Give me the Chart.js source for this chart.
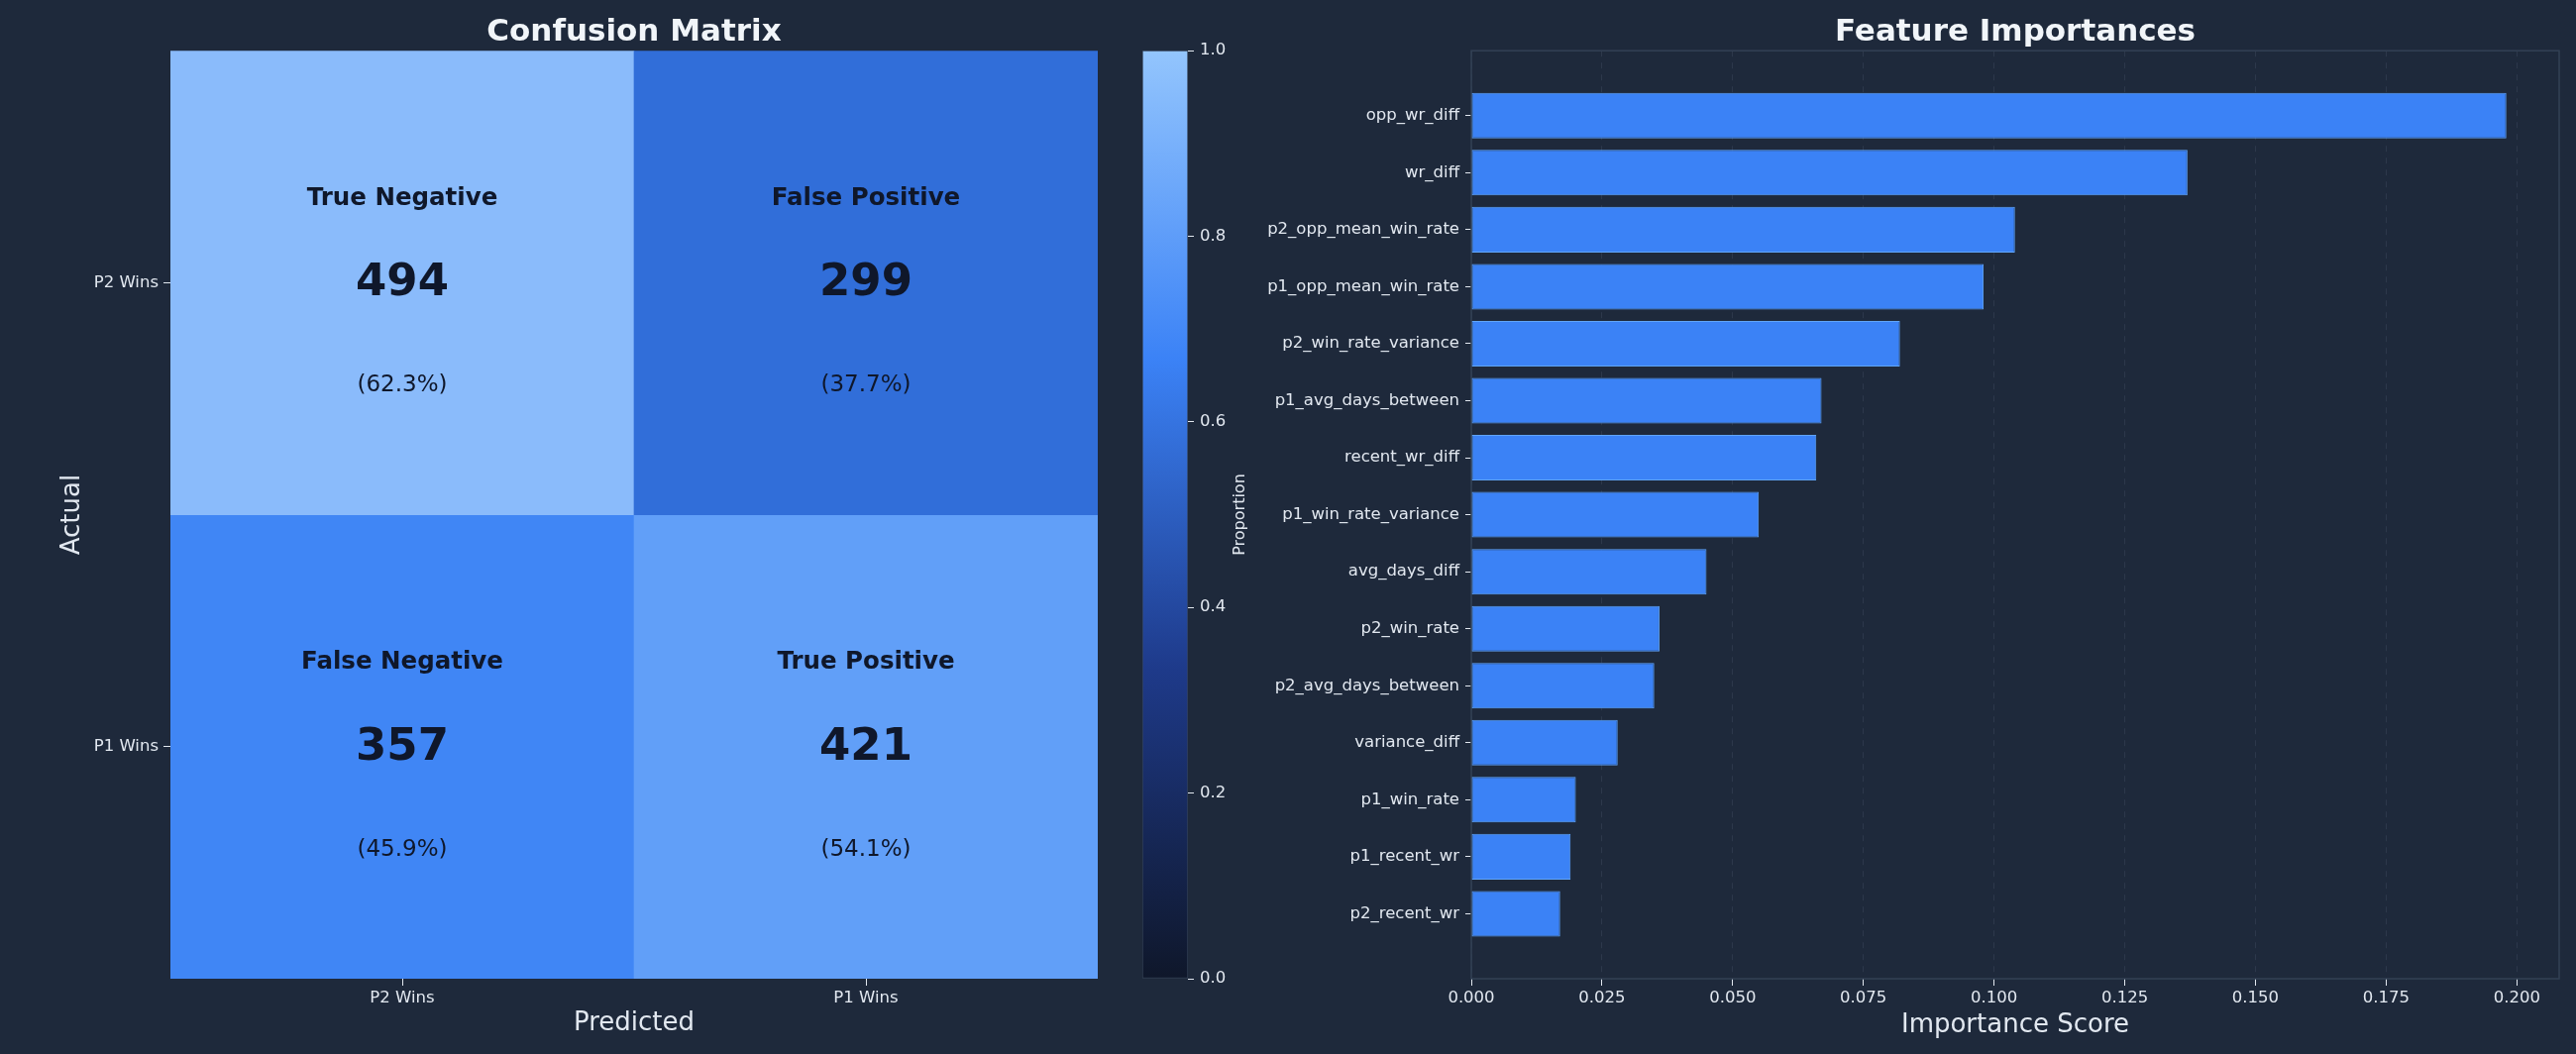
<!DOCTYPE html>
<html><head><meta charset="utf-8">
<script src="https://cdn.jsdelivr.net/npm/chart.js@4.4.1/dist/chart.umd.min.js"></script>
<style>
html,body{margin:0;padding:0;background:#1e293b;width:2600px;height:1064px;overflow:hidden;}
canvas{position:absolute;top:0;}
</style></head><body>
<canvas id="cm" width="1130" height="1064" style="left:0px"></canvas>
<canvas id="cb" width="160" height="1064" style="left:1140px"></canvas>
<canvas id="fi" width="1360" height="1064" style="left:1240px"></canvas>
<script>
// ---------- data ----------
const matrixCategories = ['P2 Wins', 'P1 Wins'];
const cellLabels = [['True Negative', 'False Positive'], ['False Negative', 'True Positive']];
const cellCounts = [[494, 299], [357, 421]];
const cellPercents = [[62.3, 37.7], [45.9, 54.1]];
const colorbarTicks = [0.0, 0.2, 0.4, 0.6, 0.8, 1.0];

const featureNames = ['opp_wr_diff', 'wr_diff', 'p2_opp_mean_win_rate', 'p1_opp_mean_win_rate',
  'p2_win_rate_variance', 'p1_avg_days_between', 'recent_wr_diff', 'p1_win_rate_variance',
  'avg_days_diff', 'p2_win_rate', 'p2_avg_days_between', 'variance_diff', 'p1_win_rate',
  'p1_recent_wr', 'p2_recent_wr'];
const featureImportances = [0.198, 0.137, 0.104, 0.098, 0.082, 0.067, 0.066, 0.055,
  0.045, 0.036, 0.035, 0.028, 0.020, 0.019, 0.017];
const importanceTicks = [0.000, 0.025, 0.050, 0.075, 0.100, 0.125, 0.150, 0.175, 0.200];

// ---------- styles ----------
const FONT = 'DejaVu Sans';
const TEXT = '#e2e8f0';
const TITLE = '#f1f5f9';
const TICK_SIZE = 16.5;
const cellColors = [['#8abbfb', '#316ed9'], ['#4086f5', '#619ff8']];
const cmapStops = [[0, '#0f172a'], [1/3, '#1e3a8a'], [2/3, '#3b82f6'], [1, '#93c5fd']];
Chart.defaults.font.family = FONT;
Chart.defaults.color = TEXT;
Chart.defaults.animation = false;

// ---------- confusion matrix ----------
const nRows = matrixCategories.length;
const cellTextPlugin = {
  id: 'cellText',
  afterDatasetsDraw(chart) {
    const ctx = chart.ctx, xs = chart.scales.x, ys = chart.scales.y;
    ctx.save();
    ctx.fillStyle = '#0f172a';
    ctx.textAlign = 'center';
    ctx.textBaseline = 'middle';
    for (let r = 0; r < nRows; r++) {
      for (let c = 0; c < matrixCategories.length; c++) {
        const x = xs.getPixelForValue(c);
        const yc = nRows - r - 0.5;
        ctx.font = 'bold 24.5px ' + FONT;
        ctx.fillText(cellLabels[r][c], x, ys.getPixelForValue(yc + 0.182));
        ctx.font = 'bold 45px ' + FONT;
        ctx.fillText(String(cellCounts[r][c]), x, ys.getPixelForValue(yc - 0.003));
        ctx.font = '23px ' + FONT;
        ctx.fillText('(' + cellPercents[r][c].toFixed(1) + '%)', x, ys.getPixelForValue(yc - 0.222));
      }
    }
    ctx.restore();
  }
};

new Chart(document.getElementById('cm'), {
  type: 'bar',
  data: {
    labels: matrixCategories,
    datasets: matrixCategories.map((rowName, r) => ({
      label: rowName,
      data: matrixCategories.map(() => [nRows - r - 1, nRows - r]),
      backgroundColor: cellColors[r],
      borderWidth: 0,
      barPercentage: 1,
      categoryPercentage: 1,
      grouped: false
    }))
  },
  options: {
    responsive: false,
    layout: { padding: { left: 0, right: 22, top: 0, bottom: 0 } },
    plugins: {
      legend: { display: false },
      tooltip: { enabled: false },
      title: {
        display: true, text: 'Confusion Matrix', fullSize: false, color: TITLE,
        font: { size: 31, weight: 'bold' }, padding: { top: 14, bottom: 0 }
      }
    },
    scales: {
      x: {
        grid: { display: true, drawOnChartArea: false, drawTicks: true, tickLength: 7, tickColor: TEXT, offset: false },
        border: { display: false },
        ticks: { font: { size: TICK_SIZE }, color: TEXT, padding: 3, maxRotation: 0 },
        title: { display: true, text: 'Predicted', font: { size: 26 }, color: TEXT, padding: { top: 0, bottom: 15 } },
        afterFit: s => { s.height = 76; }
      },
      y: {
        type: 'linear', min: 0, max: nRows,
        afterBuildTicks: s => { s.ticks = matrixCategories.map((_, r) => ({ value: nRows - r - 0.5 })); },
        ticks: {
          font: { size: TICK_SIZE }, color: TEXT, padding: 5,
          callback: v => matrixCategories[Math.round(nRows - 0.5 - v)]
        },
        grid: { display: true, drawOnChartArea: false, drawTicks: true, tickLength: 7, tickColor: TEXT },
        border: { display: false },
        title: { display: true, text: 'Actual', font: { size: 26 }, color: TEXT, padding: { top: 58, bottom: 0 } },
        afterFit: s => { s.width = 172; }
      }
    }
  },
  plugins: [cellTextPlugin]
});

// ---------- colorbar ----------
const cbLabelPlugin = {
  id: 'cbLabel',
  afterDraw(chart) {
    const ctx = chart.ctx, a = chart.chartArea;
    ctx.save();
    ctx.translate(112, (a.top + a.bottom) / 2);
    ctx.rotate(-Math.PI / 2);
    ctx.font = '16px ' + FONT;
    ctx.fillStyle = TEXT;
    ctx.textAlign = 'center';
    ctx.textBaseline = 'middle';
    ctx.fillText('Proportion', 0, 0);
    ctx.restore();
  }
};
new Chart(document.getElementById('cb'), {
  type: 'bar',
  data: {
    labels: ['Proportion'],
    datasets: [{
      data: [[colorbarTicks[0], colorbarTicks[colorbarTicks.length - 1]]],
      backgroundColor: (context) => {
        const chart = context.chart;
        const ys = chart.scales.y;
        if (!chart.chartArea || !ys) return '#3b82f6';
        const g = chart.ctx.createLinearGradient(0, ys.getPixelForValue(0), 0, ys.getPixelForValue(1));
        cmapStops.forEach(([p, c]) => g.addColorStop(p, c));
        return g;
      },
      borderColor: '#334155', borderWidth: 1, borderSkipped: false,
      barPercentage: 1, categoryPercentage: 1
    }]
  },
  options: {
    responsive: false,
    layout: { padding: { left: 13, right: 0, top: 51, bottom: 76 } },
    plugins: { legend: { display: false }, tooltip: { enabled: false } },
    scales: {
      x: { display: false },
      y: {
        position: 'right', min: 0, max: 1,
        afterBuildTicks: s => { s.ticks = colorbarTicks.map(v => ({ value: v })); },
        ticks: { font: { size: TICK_SIZE }, color: TEXT, padding: 6, callback: v => Number(v).toFixed(1) },
        grid: { display: true, drawOnChartArea: false, drawTicks: true, tickLength: 6, tickColor: TEXT },
        border: { display: false },
        afterFit: s => { s.width = 101; }
      }
    }
  },
  plugins: [cbLabelPlugin]
});

// ---------- feature importances ----------
const framePlugin = {
  id: 'frame',
  beforeDatasetsDraw(chart) {
    const ctx = chart.ctx, a = chart.chartArea;
    ctx.save();
    ctx.strokeStyle = '#334155';
    ctx.lineWidth = 1.5;
    ctx.strokeRect(a.left, a.top, a.right - a.left, a.bottom - a.top);
    ctx.restore();
  }
};
new Chart(document.getElementById('fi'), {
  type: 'bar',
  data: {
    datasets: [{
      data: featureNames.map((n, i) => ({ x: featureImportances[i], y: i })),
      backgroundColor: '#3b82f6',
      borderColor: '#60a5fa',
      borderWidth: 1,
      borderSkipped: false,
      barPercentage: 0.8,
      categoryPercentage: 1
    }]
  },
  options: {
    responsive: false,
    indexAxis: 'y',
    layout: { padding: { left: 0, right: 17, top: 0, bottom: 0 } },
    plugins: {
      legend: { display: false },
      tooltip: { enabled: false },
      title: {
        display: true, text: 'Feature Importances', fullSize: false, color: TITLE,
        font: { size: 31, weight: 'bold' }, padding: { top: 14, bottom: 0 }
      }
    },
    scales: {
      x: {
        type: 'linear', min: 0, max: 0.2081,
        afterBuildTicks: s => { s.ticks = importanceTicks.map(v => ({ value: v })); },
        ticks: { font: { size: TICK_SIZE }, color: TEXT, padding: 3, maxRotation: 0, callback: v => Number(v).toFixed(3) },
        grid: { color: 'rgba(148,163,184,0.13)', lineWidth: 1, drawTicks: true, tickLength: 7, tickColor: TEXT },
        border: { display: false, dash: [6, 6] },
        title: { display: true, text: 'Importance Score', font: { size: 26 }, color: TEXT, padding: { top: 0, bottom: 13 } },
        afterFit: s => { s.height = 76; }
      },
      y: {
        type: 'linear', reverse: true, offset: false,
        min: -1.14, max: featureNames.length - 1 + 1.14,
        afterBuildTicks: s => { s.ticks = featureNames.map((_, i) => ({ value: i })); },
        ticks: { autoSkip: false, font: { size: TICK_SIZE }, color: TEXT, padding: 6, callback: v => featureNames[v] },
        grid: { display: true, offset: false, drawOnChartArea: false, drawTicks: true, tickLength: 6, tickColor: TEXT },
        border: { display: false },
        afterFit: s => { s.width = 245; }
      }
    }
  },
  plugins: [framePlugin]
});
</script>
</body></html>
